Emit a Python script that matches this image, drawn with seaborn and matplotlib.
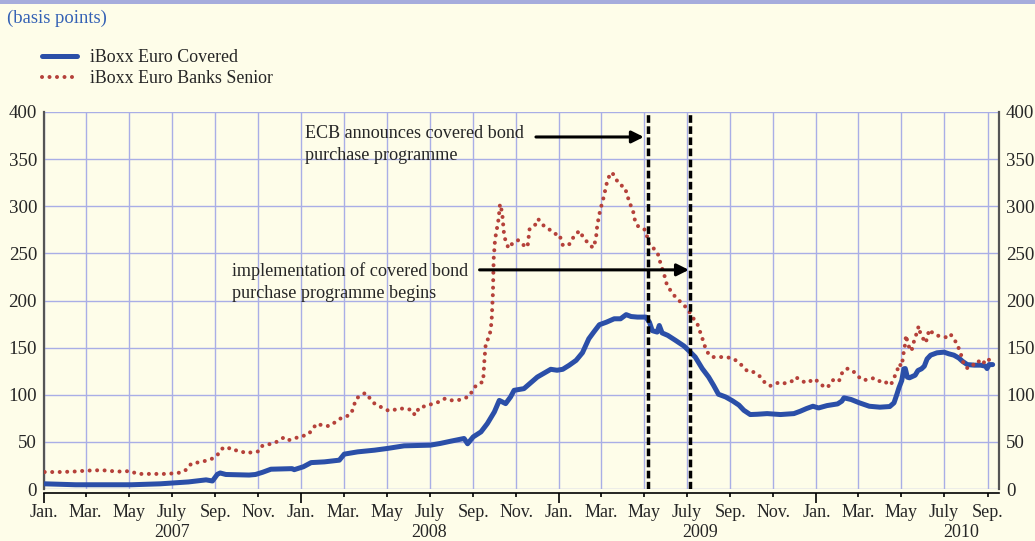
import numpy as np
import pandas as pd
import matplotlib
matplotlib.use("Agg")
import matplotlib.pyplot as plt
import matplotlib.dates as mdates
from matplotlib.lines import Line2D
from matplotlib.patches import Rectangle
from matplotlib.ticker import FuncFormatter, FixedLocator
import seaborn as sns

# ---------------- data ----------------
cov_dates = [
    "2007-01-02", "2007-02-15", "2007-04-01", "2007-05-05", "2007-06-15", "2007-07-25",
    "2007-08-19", "2007-08-28", "2007-09-04", "2007-09-08", "2007-09-16", "2007-10-19",
    "2007-10-28", "2007-11-07", "2007-11-19", "2007-12-19", "2007-12-22",
    "2008-01-04", "2008-01-15", "2008-02-03", "2008-02-24", "2008-03-02", "2008-03-21",
    "2008-04-14", "2008-05-02", "2008-05-26", "2008-07-02", "2008-07-16", "2008-07-31",
    "2008-08-19", "2008-08-24", "2008-09-01", "2008-09-12", "2008-09-21", "2008-10-01",
    "2008-10-08", "2008-10-17", "2008-10-24", "2008-10-29", "2008-11-12", "2008-12-01",
    "2008-12-20", "2008-12-29",
    "2009-01-06", "2009-01-15", "2009-01-25", "2009-02-03", "2009-02-12", "2009-02-19",
    "2009-02-27", "2009-03-09", "2009-03-20", "2009-03-29", "2009-04-06", "2009-04-13",
    "2009-04-22", "2009-05-04", "2009-05-09", "2009-05-13", "2009-05-20", "2009-05-23",
    "2009-05-27", "2009-06-04", "2009-06-15", "2009-06-27", "2009-07-06", "2009-07-13",
    "2009-07-23", "2009-08-01", "2009-08-08", "2009-08-15", "2009-08-25", "2009-09-04",
    "2009-09-13", "2009-09-20", "2009-09-29", "2009-10-09", "2009-10-23", "2009-11-11",
    "2009-11-30", "2009-12-09", "2009-12-18", "2009-12-27",
    "2010-01-04", "2010-01-16", "2010-01-31", "2010-02-06", "2010-02-09", "2010-02-19",
    "2010-03-03", "2010-03-17", "2010-04-01", "2010-04-15", "2010-04-21", "2010-04-25",
    "2010-04-28", "2010-05-02", "2010-05-05", "2010-05-07", "2010-05-10", "2010-05-13",
    "2010-05-21", "2010-05-25", "2010-05-30", "2010-06-03", "2010-06-07", "2010-06-12",
    "2010-06-21", "2010-07-01", "2010-07-08", "2010-07-15", "2010-07-22", "2010-07-27",
    "2010-08-03", "2010-08-13", "2010-08-22", "2010-08-29", "2010-08-31", "2010-09-03",
    "2010-09-08",
]
cov_bp = [
    5.5, 4.5, 4.5, 4.5, 5.5, 7.5,
    9.7, 8.5, 15.6, 17.0, 15.4, 14.8,
    15.4, 17.7, 21.0, 21.6, 20.5,
    23.6, 28.0, 28.8, 30.6, 37.0, 39.4,
    41.2, 43.0, 45.8, 46.5, 48.3, 50.7,
    53.6, 48.0, 55.3, 60.6, 69.4, 81.8,
    94.0, 90.6, 97.7, 104.7, 106.5, 118.8,
    127.0, 126.0,
    127.0, 131.2, 136.5, 144.6, 159.4, 166.5,
    174.3, 177.0, 180.6, 180.6, 185.0, 183.0,
    182.4, 182.4, 177.0, 168.0, 166.5, 173.5,
    165.6, 163.0, 157.7, 151.7, 145.3, 140.0,
    127.7, 118.8, 110.0, 100.5, 97.7, 93.5,
    89.0, 83.5, 79.0, 79.3, 80.0, 79.0,
    80.0, 82.5, 85.4, 87.8,
    86.0, 88.5, 90.3, 93.2, 96.7, 95.0,
    91.4, 87.8, 86.8, 87.5, 91.4, 100.2,
    107.3, 115.0, 127.5, 127.8, 118.6, 118.0,
    120.7, 125.7, 127.5, 130.3, 138.0, 142.0,
    144.5, 145.2, 143.4, 142.0, 139.0, 135.6,
    132.0, 131.4, 131.4, 130.3, 127.8, 132.0,
    132.0,
]

snr_dates = [
    "2007-01-02", "2007-01-22", "2007-02-12", "2007-03-03", "2007-03-24", "2007-04-15",
    "2007-05-04", "2007-05-13", "2007-06-04", "2007-06-25", "2007-07-15", "2007-07-23",
    "2007-07-29", "2007-08-14", "2007-08-27", "2007-09-04", "2007-09-10", "2007-09-18",
    "2007-09-25", "2007-10-05", "2007-10-14", "2007-11-02", "2007-11-07", "2007-11-24",
    "2007-12-08", "2007-12-15", "2007-12-28",
    "2008-01-11", "2008-01-23", "2008-01-30", "2008-02-06", "2008-02-13", "2008-02-20",
    "2008-02-28", "2008-03-04", "2008-03-12", "2008-03-19", "2008-03-26", "2008-04-01",
    "2008-04-07", "2008-04-14", "2008-04-23", "2008-05-02", "2008-05-09", "2008-05-16",
    "2008-05-28", "2008-06-07", "2008-06-10", "2008-06-17", "2008-06-28", "2008-07-07",
    "2008-07-15", "2008-07-23", "2008-07-31", "2008-08-10", "2008-08-19", "2008-08-27",
    "2008-09-01", "2008-09-08", "2008-09-15", "2008-09-17", "2008-09-19", "2008-09-24",
    "2008-09-27", "2008-09-29", "2008-09-30", "2008-10-02", "2008-10-05", "2008-10-07",
    "2008-10-09", "2008-10-12", "2008-10-15", "2008-10-21", "2008-10-28", "2008-11-04",
    "2008-11-11", "2008-11-17", "2008-11-20", "2008-11-29", "2008-12-02", "2008-12-10",
    "2008-12-17", "2008-12-26",
    "2009-01-01", "2009-01-06", "2009-01-13", "2009-01-18", "2009-01-22", "2009-01-30",
    "2009-02-04", "2009-02-10", "2009-02-18", "2009-02-22", "2009-02-24", "2009-02-28",
    "2009-03-05", "2009-03-11", "2009-03-17", "2009-03-22", "2009-03-28", "2009-04-03",
    "2009-04-08", "2009-04-10", "2009-04-15", "2009-04-19", "2009-04-24", "2009-05-03",
    "2009-05-06", "2009-05-09", "2009-05-16", "2009-05-21", "2009-05-25", "2009-05-31",
    "2009-06-03", "2009-06-08", "2009-06-15", "2009-06-25", "2009-07-02", "2009-07-09",
    "2009-07-16", "2009-07-23", "2009-07-29", "2009-08-06", "2009-08-14", "2009-08-23",
    "2009-09-03", "2009-09-11", "2009-09-18", "2009-09-25", "2009-10-02", "2009-10-12",
    "2009-10-19", "2009-10-27", "2009-11-04", "2009-11-11", "2009-11-18", "2009-11-27",
    "2009-12-02", "2009-12-10", "2009-12-16", "2009-12-23", "2009-12-29",
    "2010-01-06", "2010-01-13", "2010-01-20", "2010-01-25", "2010-02-02", "2010-02-05",
    "2010-02-10", "2010-02-15", "2010-02-22", "2010-02-28", "2010-03-06", "2010-03-14",
    "2010-03-23", "2010-03-30", "2010-04-07", "2010-04-14", "2010-04-18", "2010-04-22",
    "2010-04-26", "2010-04-28", "2010-05-02", "2010-05-05", "2010-05-07", "2010-05-08",
    "2010-05-11", "2010-05-15", "2010-05-18", "2010-05-20", "2010-05-23", "2010-05-26",
    "2010-05-28", "2010-06-02", "2010-06-05", "2010-06-08", "2010-06-10", "2010-06-17",
    "2010-06-25", "2010-07-04", "2010-07-10", "2010-07-15", "2010-07-20", "2010-07-23",
    "2010-07-27", "2010-07-29", "2010-08-04", "2010-08-12", "2010-08-18", "2010-08-24",
    "2010-08-30", "2010-09-02", "2010-09-05",
]
snr_bp = [
    18.0, 18.0, 18.5, 19.5, 20.0, 18.5,
    19.0, 16.0, 16.0, 16.0, 17.5, 21.0,
    27.0, 29.0, 32.0, 36.0, 42.6, 44.7,
    41.0, 41.0, 38.0, 40.0, 46.0, 48.7,
    55.0, 52.0, 55.0,
    57.8, 69.4, 67.7, 66.6, 67.7, 72.3,
    75.8, 76.5, 80.0, 96.0, 99.4, 102.0,
    96.6, 90.6, 87.0, 83.6, 82.9, 85.3,
    85.3, 83.6, 78.3, 87.0, 88.0, 91.3,
    92.4, 96.0, 94.1, 94.1, 96.0, 98.7,
    106.5, 111.8, 113.6, 138.3, 156.0, 161.0,
    177.0, 208.8, 244.0, 265.0, 277.7, 286.5,
    302.4, 293.5, 267.8, 255.4, 261.8, 264.0,
    259.0, 256.5, 276.0, 281.0, 286.5, 279.4,
    276.0, 270.6,
    270.6, 259.0, 258.0, 261.8, 268.8, 274.0,
    267.0, 261.8, 255.8, 264.6, 280.0, 295.3,
    309.4, 329.5, 336.0, 329.5, 322.5, 321.0,
    312.0, 304.0, 297.8, 283.0, 277.7, 275.0,
    267.0, 258.0, 254.7, 249.4, 238.8, 224.7,
    216.0, 210.6, 203.5, 196.5, 191.2, 182.4,
    175.3, 160.0, 146.0, 140.0, 140.0, 140.0,
    139.0, 135.4, 130.5, 125.0, 124.8, 120.0,
    113.6, 109.3, 111.8, 113.5, 112.0, 114.4,
    118.6, 116.0, 112.6, 114.4, 116.9,
    112.3, 107.3, 110.0, 116.0, 114.4, 121.5,
    126.8, 127.8, 125.0, 120.7, 115.8, 115.8,
    117.6, 114.4, 115.0, 110.0, 112.6, 119.5,
    126.8, 132.8, 130.3, 146.2, 154.4, 163.2,
    153.3, 146.2, 150.8, 159.7, 164.6, 172.8,
    166.4, 158.6, 155.0, 163.2, 169.2, 163.9,
    162.1, 161.0, 164.6, 158.6, 154.0, 146.2,
    139.1, 131.4, 127.8, 132.0, 136.3, 132.0,
    137.4, 138.5, 132.8,
]

series_names = ["iBoxx Euro Covered", "iBoxx Euro Banks Senior"]
y_ticks = [0, 50, 100, 150, 200, 250, 300, 350, 400]
month_labels = {1: "Jan.", 3: "Mar.", 5: "May", 7: "July", 9: "Sep.", 11: "Nov."}
year_labels = ["2007", "2008", "2009", "2010"]
year_label_dates = ["2007-07-01", "2008-07-01", "2009-07-20", "2010-07-25"]
event_dates = ["2009-05-07", "2009-07-06"]
unit_label = "(basis points)"
ecb_text = "ECB announces covered bond\npurchase programme"
impl_text = "implementation of covered bond\npurchase programme begins"

# ---------------- style ----------------
BG = "#fefde9"
BLUE = "#2b4fa8"
RED = "#b5413a"
GRID = "#a9aee6"
TXT_BLUE = "#3461b5"
DOTS = (0, (0.01, 1.85))

sns.set_style("white")
plt.rcParams["font.family"] = ["Liberation Serif", "DejaVu Serif"]

W, H = 1035, 541
fig = plt.figure(figsize=(W / 100, H / 100), dpi=100, facecolor=BG)
ax = fig.add_axes([44 / W, 52 / H, 955 / W, 377 / H])
ax.set_facecolor(BG)

df_cov = pd.DataFrame({"date": pd.to_datetime(cov_dates), "bp": cov_bp})
df_snr = pd.DataFrame({"date": pd.to_datetime(snr_dates), "bp": snr_bp})

sns.lineplot(data=df_cov, x="date", y="bp", ax=ax, color=BLUE, lw=3.6,
             legend=False, zorder=3, solid_capstyle="round")
sns.lineplot(data=df_snr, x="date", y="bp", ax=ax, color=RED, lw=2.9,
             linestyle=DOTS, dash_capstyle="round",
             legend=False, zorder=4)

for d in event_dates:
    ax.axvline(pd.Timestamp(d), color="black", lw=2.5,
               linestyle=(0, (2.2, 1.0)), zorder=5)

ax.set_xlim(pd.Timestamp("2007-01-01"), pd.Timestamp("2010-09-17"))
ax.set_ylim(0, 400)
ax.set_xlabel("")
ax.set_ylabel("")

# x ticks
ax.xaxis.set_major_locator(mdates.MonthLocator(bymonth=[1]))
ax.xaxis.set_minor_locator(mdates.MonthLocator(bymonth=[3, 5, 7, 9, 11]))
fmt = FuncFormatter(lambda v, p: month_labels[mdates.num2date(v).month])
ax.xaxis.set_major_formatter(fmt)
ax.xaxis.set_minor_formatter(fmt)
ax.tick_params(axis="x", which="major", length=7, width=1.2, pad=1,
               labelsize=13, color="black", direction="out", bottom=True)
ax.tick_params(axis="x", which="minor", length=3, width=1.2, pad=5,
               labelsize=13, color="black", direction="out", bottom=True)

# y ticks
ax.yaxis.set_major_locator(FixedLocator(y_ticks))
ax.tick_params(axis="y", length=0, pad=5, labelsize=13.6,
               left=False, right=False, labelleft=True, labelright=True)

ax.grid(True, which="both", axis="x", color=GRID, lw=1.0)
ax.grid(True, which="major", axis="y", color=GRID, lw=1.0)
ax.set_axisbelow(True)

for s in ["left", "right"]:
    ax.spines[s].set_color("#555555")
    ax.spines[s].set_linewidth(1.6)
ax.spines["top"].set_visible(False)
ax.spines["bottom"].set_position(("outward", 3))
ax.spines["bottom"].set_color("black")
ax.spines["bottom"].set_linewidth(1.2)

# year labels
for lab, d in zip(year_labels, year_label_dates):
    ax.text(pd.Timestamp(d), -0.115, lab, transform=ax.get_xaxis_transform(),
            ha="center", va="center", fontsize=13)

# annotations
ax.text(0.2733, 0.966, ecb_text, transform=ax.transAxes, ha="left", va="top",
        fontsize=13.1, linespacing=1.4, zorder=6)
ax.text(0.1969, 0.602, impl_text, transform=ax.transAxes, ha="left", va="top",
        fontsize=13.1, linespacing=1.4, zorder=6)
arrow_kw = dict(arrowstyle="-|>", color="black", lw=2.2, mutation_scale=18,
                shrinkA=0, shrinkB=0)
ax.annotate("", xy=(mdates.date2num(pd.Timestamp("2009-05-01")), 373.5),
            xytext=(mdates.date2num(pd.Timestamp("2008-11-29")), 373.5),
            arrowprops=arrow_kw, zorder=6)
ax.annotate("", xy=(mdates.date2num(pd.Timestamp("2009-07-04")), 232.5),
            xytext=(mdates.date2num(pd.Timestamp("2008-09-10")), 232.5),
            arrowprops=arrow_kw, zorder=6)

# legend
handles = [
    Line2D([], [], color=BLUE, lw=3.6),
    Line2D([], [], color=RED, lw=2.9, linestyle=DOTS, dash_capstyle="round"),
]
fig.legend(handles, series_names, loc="upper left",
           bbox_to_anchor=(42 / W, 1 - 49 / H), frameon=False, fontsize=12.9,
           handlelength=1.95, handletextpad=0.75, labelspacing=0.24,
           borderpad=0, borderaxespad=0)

fig.text(7 / W, 1 - 18 / H, unit_label, color=TXT_BLUE, fontsize=13.4,
         ha="left", va="center")

fig.add_artist(Rectangle((0, 1 - 4 / H), 1, 4 / H, transform=fig.transFigure,
                         color="#a6acdc", lw=0))

fig.savefig("out.png", dpi=100, facecolor=BG)
